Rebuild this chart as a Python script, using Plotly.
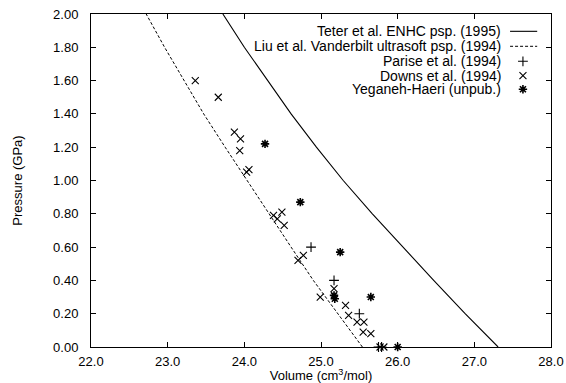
import plotly.graph_objects as go

# ---- data ----
teter_P = [0.0, 0.2, 0.4, 0.6, 0.8, 1.0, 1.2, 1.4, 1.6, 1.8, 2.0]
teter_V = [27.31, 26.88, 26.47, 26.07, 25.67, 25.29, 24.94, 24.61, 24.30, 24.00, 23.72]

liu_P = [0.0, 0.2, 0.4, 0.6, 0.8, 1.0, 1.2, 1.4, 1.6, 1.8, 2.0]
liu_V = [25.54, 25.22, 24.90, 24.61, 24.32, 24.03, 23.75, 23.47, 23.21, 22.96, 22.72]

parise_V = [24.87, 25.17, 25.50, 25.75, 25.79]
parise_P = [0.60, 0.40, 0.20, 0.00, 0.00]

downs_V = [23.36, 23.66, 23.87, 23.95, 23.94, 24.03, 24.06, 24.38, 24.43, 24.49, 24.52,
           24.70, 24.77, 24.99, 25.17, 25.32, 25.36, 25.47, 25.56, 25.55, 25.65, 25.77, 25.82]
downs_P = [1.60, 1.50, 1.29, 1.25, 1.18, 1.05, 1.065, 0.79, 0.77, 0.81, 0.73,
           0.52, 0.55, 0.30, 0.35, 0.25, 0.19, 0.15, 0.15, 0.09, 0.08, 0.00, 0.00]

yeg_V = [24.27, 24.73, 25.25, 25.17, 25.18, 25.65, 26.00]
yeg_P = [1.22, 0.87, 0.57, 0.31, 0.29, 0.30, 0.00]

legend_labels = ["Teter et al. ENHC psp. (1995)",
                 "Liu et al. Vanderbilt ultrasoft psp. (1994)",
                 "Parise et al. (1994)",
                 "Downs et al. (1994)",
                 "Yeganeh-Haeri (unpub.)"]

x_ticks = [22.0, 23.0, 24.0, 25.0, 26.0, 27.0, 28.0]
y_ticks = [0.0, 0.2, 0.4, 0.6, 0.8, 1.0, 1.2, 1.4, 1.6, 1.8, 2.0]

FONT = "Liberation Sans, Arial, Helvetica, sans-serif"
BLACK = "#000000"

fig = go.Figure()

fig.add_trace(go.Scatter(x=teter_V, y=teter_P, mode="lines",
                         line=dict(color=BLACK, width=1.1), showlegend=False))
fig.add_trace(go.Scatter(x=liu_V, y=liu_P, mode="lines",
                         line=dict(color=BLACK, width=1, dash="3px,2px"), showlegend=False))

mk_plus = dict(symbol="cross-thin-open", size=7, color=BLACK, line=dict(color=BLACK, width=1.1))
mk_x = dict(symbol="x-thin-open", size=7, color=BLACK, line=dict(color=BLACK, width=1.1))
mk_star = dict(symbol="asterisk-open", size=7, color=BLACK, line=dict(color=BLACK, width=1.6))

fig.add_trace(go.Scatter(x=parise_V, y=parise_P, mode="markers", marker=mk_plus,
                         cliponaxis=False, showlegend=False))
fig.add_trace(go.Scatter(x=downs_V, y=downs_P, mode="markers", marker=mk_x,
                         cliponaxis=False, showlegend=False))
fig.add_trace(go.Scatter(x=yeg_V, y=yeg_P, mode="markers", marker=mk_star,
                         cliponaxis=False, showlegend=False))

# ---- gnuplot-style key (text right-aligned, sample on the right) ----
key_text_x = 0.896
key_line = [0.911, 0.970]
key_mark_x = 0.939
row_y = [0.948, 0.903, 0.858, 0.815, 0.774]

for lbl, yy in zip(legend_labels, row_y):
    fig.add_annotation(x=key_text_x, y=yy, xref="paper", yref="paper", text=lbl,
                       showarrow=False, xanchor="right", yanchor="middle",
                       font=dict(family=FONT, size=14, color=BLACK))

fig.add_trace(go.Scatter(x=key_line, y=[row_y[0]] * 2, mode="lines", xaxis="x2", yaxis="y2",
                         line=dict(color=BLACK, width=1.1), showlegend=False, hoverinfo="skip"))
fig.add_trace(go.Scatter(x=key_line, y=[row_y[1]] * 2, mode="lines", xaxis="x2", yaxis="y2",
                         line=dict(color=BLACK, width=1, dash="3px,2px"), showlegend=False,
                         hoverinfo="skip"))
for mk, yy in zip([mk_plus, mk_x, mk_star], row_y[2:]):
    fig.add_trace(go.Scatter(x=[key_mark_x], y=[yy], mode="markers", xaxis="x2", yaxis="y2",
                             marker=mk, showlegend=False, hoverinfo="skip", cliponaxis=False))

axis_common = dict(showline=True, linecolor=BLACK, linewidth=1, mirror="ticks",
                   ticks="inside", ticklen=5, tickcolor=BLACK, tickwidth=1,
                   showgrid=False, zeroline=False, automargin=False,
                   tickfont=dict(family=FONT, size=13, color=BLACK))

fig.update_layout(
    width=566, height=383,
    margin=dict(l=91, r=15, t=14, b=36),
    paper_bgcolor="white", plot_bgcolor="white",
    font=dict(family=FONT, size=13, color=BLACK),
    xaxis=dict(range=[22, 28], tickvals=x_ticks, ticktext=[f"{v:.1f}" for v in x_ticks],
               ticklabelstandoff=2,
               title=dict(text="Volume (cm<sup>3</sup>/mol)", standoff=2,
                          font=dict(family=FONT, size=13, color=BLACK)),
               **axis_common),
    yaxis=dict(range=[0, 2], tickvals=y_ticks, ticktext=[f"{v:.2f}" for v in y_ticks],
               ticklabelstandoff=9,
               title=dict(text="Pressure (GPa)", standoff=27,
                          font=dict(family=FONT, size=13, color=BLACK)),
               **axis_common),
    xaxis2=dict(range=[0, 1], overlaying="x", visible=False, fixedrange=True),
    yaxis2=dict(range=[0, 1], overlaying="y", visible=False, fixedrange=True),
    showlegend=False,
)

fig.write_html("out.html", config={"displayModeBar": False},
               post_script="document.body.style.margin='0';document.body.style.overflow='hidden';")
